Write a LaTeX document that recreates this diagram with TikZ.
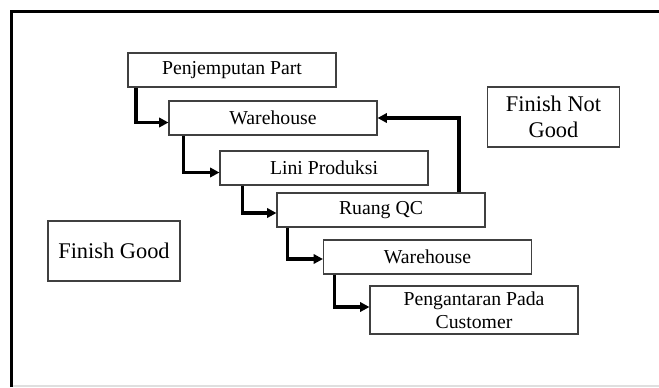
\documentclass[tikz,border=0pt]{standalone}
\usepackage{fontspec}
\setmainfont{Liberation Serif}
\usetikzlibrary{arrows.meta,calc}

\begin{document}
\begin{tikzpicture}[
  x=0.75pt, y=-0.75pt,
  >={Triangle[length=7pt,width=7pt]},
  stepbox/.style={draw=black!75, line width=0.8pt, minimum width=156pt,
    minimum height=25.5pt, inner sep=0pt, align=center,
    font=\fontsize{14.8}{17.3}\selectfont},
  endbox/.style={draw=black!75, line width=0.8pt, minimum width=99pt,
    minimum height=45pt, inner sep=0pt, align=center,
    font=\fontsize{16.8}{19.2}\selectfont},
  flow/.style={->, line width=2.6pt},
  frame/.style={line width=2.4pt}
]
  \useasboundingbox (0,0) rectangle (659,387);

  % outer frame, only top and left visible
  \draw[frame] (11.5,387) |- (659,11.5);
  \draw[gray!25, line width=0.8pt] (13,386) -- (659,386);

  % process steps, stepping down to the right
  \node[stepbox] (pp)  at (232,70)    {Penjemputan Part};
  \node[stepbox] (wh1) at (273,118)   {Warehouse};
  \node[stepbox] (lp)  at (324,168)   {Lini Produksi};
  \node[stepbox] (qc)  at (381,210)   {Ruang QC};
  \node[stepbox] (wh2) at (427.5,257) {Warehouse};
  \node[stepbox, minimum height=36pt] (pc) at (474,310)
    {Pengantaran Pada\\Customer};

  % outcomes
  \node[endbox] (fng) at (553.5,117) {Finish Not\\Good};
  \node[endbox] (fg)  at (114,251)   {Finish Good};

  % flow between the steps
  \draw[flow] ($(pp.south west)+(8.5,0)$)   |- ($(wh1.west)+(0,4.5)$);
  \draw[flow] ($(wh1.south west)+(15,0)$)   |- ($(lp.west)+(0,4.5)$);
  \draw[flow] ($(lp.south west)+(23,0)$)    |- ($(qc.west)+(0,3)$);
  \draw[flow] ($(qc.south west)+(11,0)$)    |- ($(wh2.west)+(0,2)$);
  \draw[flow] ($(wh2.south west)+(11.5,0)$) |- ($(pc.west)+(0,-3)$);

  % rejected parts back to the warehouse
  \draw[flow] ($(qc.north east)+(-26.5,0)$) |- (wh1.east);
\end{tikzpicture}
\end{document}
